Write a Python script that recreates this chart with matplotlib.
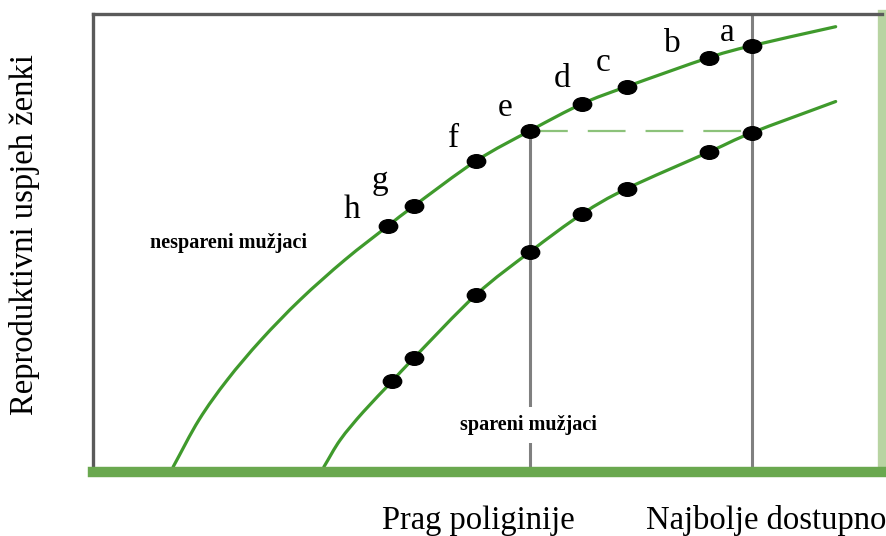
import matplotlib.pyplot as plt
from matplotlib.markers import MarkerStyle
from matplotlib.patches import PathPatch
from matplotlib.path import Path
from matplotlib.transforms import Affine2D

plt.rcParams["font.family"] = ["Liberation Serif", "DejaVu Serif"]

# curve outlines (x = male territory quality, y = female success)
unmated_x = [10.2, 13.5, 17.1, 21.4, 26.4, 32.1, 37.6, 40.9, 48.8, 55.7, 62.3, 68.0, 78.5, 83.9, 94.6]
unmated_y = [0.0, 10.4, 19.2, 28.0, 36.9, 45.7, 53.2, 57.6, 67.5, 74.2, 80.1, 83.9, 90.3, 92.9, 97.1]
mated_x = [29.4, 31.5, 34.4, 38.1, 40.9, 48.8, 55.7, 62.3, 68.0, 78.5, 83.9, 94.6]
mated_y = [0.0, 6.0, 12.1, 18.9, 24.1, 38.0, 47.5, 55.8, 61.4, 69.5, 73.7, 80.6]

# territories a..h
terr_names = ["h", "g", "f", "e", "d", "c", "b", "a"]
terr_x = [37.6, 40.9, 48.8, 55.7, 62.3, 68.0, 78.5, 83.9]
unmated_pts = [53.2, 57.6, 67.5, 74.2, 80.1, 83.9, 90.3, 92.9]
mated_x_pts = [38.1, 40.9, 48.8, 55.7, 62.3, 68.0, 78.5, 83.9]
mated_pts = [18.9, 24.1, 38.0, 47.5, 55.8, 61.4, 69.5, 73.7]
label_x = [33.0, 36.6, 45.9, 52.5, 59.7, 65.0, 73.8, 80.8]
label_y = [55.0, 61.4, 70.6, 77.3, 83.7, 87.4, 91.5, 93.9]

threshold_x = 55.7
best_x = 83.9
threshold_y = 74.2

green = "#3f9a2c"


def smooth_path(xs, ys):
    # cubic bezier segments through the points (Catmull-Rom tangents)
    pts = list(zip(xs, ys))
    first = (2 * pts[0][0] - pts[1][0], 2 * pts[0][1] - pts[1][1])
    last = (2 * pts[-1][0] - pts[-2][0], 2 * pts[-1][1] - pts[-2][1])
    ext = [first] + pts + [last]
    verts = [pts[0]]
    codes = [Path.MOVETO]
    for i in range(1, len(ext) - 2):
        p0, p1, p2, p3 = ext[i - 1], ext[i], ext[i + 1], ext[i + 2]
        c1 = (p1[0] + (p2[0] - p0[0]) / 6, p1[1] + (p2[1] - p0[1]) / 6)
        c2 = (p2[0] - (p3[0] - p1[0]) / 6, p2[1] - (p3[1] - p1[1]) / 6)
        verts += [c1, c2, p2]
        codes += [Path.CURVE4] * 3
    return Path(verts, codes)


fig = plt.figure(figsize=(8.86, 5.36), dpi=100)
ax = fig.add_axes([93 / 886, 64 / 536, 789 / 886, 458 / 536])
ax.set_xlim(0, 100.5)
ax.set_ylim(-1.1, 99.9)

for xs, ys in [(unmated_x, unmated_y), (mated_x, mated_y)]:
    ax.add_patch(PathPatch(smooth_path(xs, ys), facecolor="none", edgecolor=green,
                           lw=2.3, capstyle="round", zorder=2))

# polygyny threshold and best available territory
ax.plot([threshold_x, threshold_x], [-1.1, threshold_y], color="#808080", lw=2.2, zorder=1)
ax.axvline(best_x, color="#808080", lw=2.2, zorder=1)
dash, = ax.plot([threshold_x, best_x], [threshold_y, threshold_y], color="#8cc27a", lw=1.6, zorder=1)
dash.set_dashes((17, 9))

ell = MarkerStyle("o", transform=Affine2D().scale(1.35, 1.0))
ax.plot(terr_x, unmated_pts, ls="none", marker=ell, ms=9.8, color="black", zorder=4)
ax.plot(mated_x_pts, mated_pts, ls="none", marker=ell, ms=9.8, color="black", zorder=4)

for name, x, y in zip(terr_names, label_x, label_y):
    ax.text(x, y, name, fontsize=24, ha="center", va="baseline")

ax.text(7.3, 49.4, "nespareni mužjaci", fontsize=14.5, fontweight="bold", va="center")
ax.text(46.8, 9.3, "spareni mužjaci", fontsize=14.5, fontweight="bold", va="center",
        bbox=dict(facecolor="white", edgecolor="none", pad=6), zorder=3)

ax.set_xticks([])
ax.set_yticks([])
for side in ["left", "top"]:
    ax.spines[side].set_color("#5a5a5a")
    ax.spines[side].set_linewidth(2.4)
ax.spines["bottom"].set_color("#6aa84f")
ax.spines["bottom"].set_linewidth(7.5)
ax.spines["right"].set_color("#b8d4a2")
ax.spines["right"].set_linewidth(6)

fig.text(25 / 886, 1 - 235 / 536, "Reproduktivni uspjeh ženki", rotation=90,
         fontsize=23.5, ha="center", va="center")
fig.text(478 / 886, 1 - 521 / 536, "Prag poliginije", fontsize=23.5, ha="center", va="center")
fig.text(766 / 886, 1 - 521 / 536, "Najbolje dostupno", fontsize=23.5, ha="center", va="center")

fig.savefig("out.png", dpi=100)
